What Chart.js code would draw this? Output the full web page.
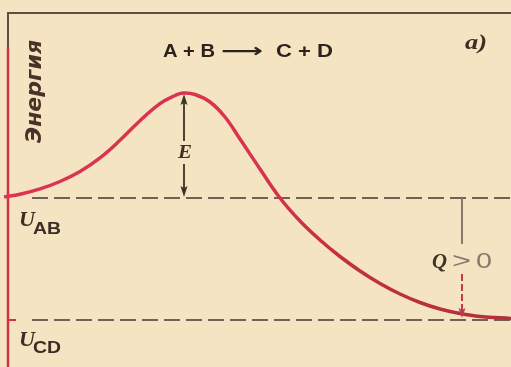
<!DOCTYPE html>
<html>
<head>
<meta charset="utf-8">
<script src="https://cdn.jsdelivr.net/npm/chart.js@4/dist/chart.umd.min.js"></script>
<style>
  html, body { margin: 0; padding: 0; background: #f4e4c2; }
  #wrap { width: 511px; height: 367px; }
</style>
</head>
<body>
<div id="wrap"><canvas id="c" width="511" height="367"></canvas></div>
<script>
// Reaction coordinate (horizontal position along the reaction path)
const reactionCoord = [4, 20, 40, 60, 80, 100, 120, 140, 160, 175, 183, 195, 210, 225, 240, 260, 280, 300, 320, 340, 360, 380, 400, 420, 440, 460, 480, 511];
// Energy along the path (U_CD = 0)
const energy = [123, 125.7, 131.1, 138.5, 148.5, 162.1, 179.7, 199.3, 216.3, 224.5, 227, 225.5, 218, 203, 181, 151, 122, 99, 80, 63.5, 49, 36.5, 26, 17.5, 11, 6.5, 3.5, 1.5];
// Energy levels
const levelNames = ['AB', 'CD'];
const levelValues = [122, 0];
const levelRange = [32, 511];
// Activation barrier marker and heat marker positions
const peakCoord = 183;
const peakEnergy = 227;
const heatCoord = 462;
// Texts
const reactionLeft = 'A + B';
const reactionArrow = '\u27F6';
const reactionRight = 'C + D';
const axisText = '\u042D\u043D\u0435\u0440\u0433\u0438\u044F';
const panelText = 'a)';

const curvePoints = reactionCoord.map((x, i) => ({ x: x, y: energy[i] }));
const levelSets = levelValues.map(v => [{ x: levelRange[0], y: v }, { x: levelRange[1], y: v }]);

function arrowHead(ctx, x, y, dir, w, l, color) {
  ctx.save();
  ctx.fillStyle = color;
  ctx.beginPath();
  ctx.moveTo(x, y);
  ctx.lineTo(x - w, y - dir * l);
  ctx.lineTo(x, y - dir * (l - 2));
  ctx.lineTo(x + w, y - dir * l);
  ctx.closePath();
  ctx.fill();
  ctx.restore();
}

// draw text starting at x (left) and fit horizontally to width (if given)
function fitText(ctx, text, x, y, font, color, width) {
  ctx.save();
  ctx.font = font;
  ctx.fillStyle = color;
  ctx.textBaseline = 'alphabetic';
  ctx.textAlign = 'left';
  const w = ctx.measureText(text).width;
  const s = width ? width / w : 1;
  ctx.translate(x, y);
  ctx.scale(s, 1);
  ctx.fillText(text, 0, 0);
  ctx.restore();
}

const decor = {
  id: 'decor',
  beforeDraw(chart) {
    const ctx = chart.ctx;
    ctx.save();
    ctx.fillStyle = '#f4e4c2';
    ctx.fillRect(0, 0, chart.width, chart.height);
    ctx.restore();
  },
  beforeDatasetsDraw(chart) {
    const ctx = chart.ctx;
    const xs = chart.scales.x, ys = chart.scales.y;
    const x0 = xs.getPixelForValue(8);
    ctx.save();
    ctx.lineWidth = 2;
    ctx.strokeStyle = '#5e5040';
    ctx.beginPath();
    ctx.moveTo(x0 - 1, 13);
    ctx.lineTo(chart.width, 13);
    ctx.stroke();
    ctx.beginPath();
    ctx.moveTo(x0, 13);
    ctx.lineTo(x0, 47);
    ctx.stroke();
    ctx.strokeStyle = '#cf3249';
    ctx.lineWidth = 2.5;
    ctx.beginPath();
    ctx.moveTo(x0, 47);
    ctx.lineTo(x0, chart.height);
    ctx.stroke();
    ctx.lineWidth = 2;
    ctx.beginPath();
    const yc = ys.getPixelForValue(levelValues[1]);
    ctx.moveTo(x0, yc);
    ctx.lineTo(x0 + 8, yc);
    ctx.stroke();
    ctx.restore();
  },
  afterDatasetsDraw(chart) {
    const ctx = chart.ctx;
    const xs = chart.scales.x, ys = chart.scales.y;
    const dark = '#3f3228';
    const gray = '#857a6c';
    // Activation energy arrow
    const ex = xs.getPixelForValue(peakCoord) + 1;
    const yTop = ys.getPixelForValue(peakEnergy);
    const yBase = ys.getPixelForValue(levelValues[0]);
    ctx.save();
    ctx.strokeStyle = dark;
    ctx.lineWidth = 1.8;
    ctx.beginPath();
    ctx.moveTo(ex, yTop + 6);
    ctx.lineTo(ex, 141);
    ctx.moveTo(ex, 164);
    ctx.lineTo(ex, yBase - 5);
    ctx.stroke();
    ctx.restore();
    arrowHead(ctx, ex, yTop + 1, -1, 3.5, 11, dark);
    arrowHead(ctx, ex, yBase - 1, 1, 3.5, 11, dark);
    fitText(ctx, 'E', 178, 158, 'italic bold 19px "Liberation Serif"', dark, 14);

    // Heat arrow
    const qx = xs.getPixelForValue(heatCoord);
    const yLow = ys.getPixelForValue(levelValues[1]);
    ctx.save();
    ctx.strokeStyle = gray;
    ctx.lineWidth = 2;
    ctx.beginPath();
    ctx.moveTo(qx, yBase);
    ctx.lineTo(qx, 244);
    ctx.stroke();
    ctx.strokeStyle = '#bf3a4a';
    ctx.setLineDash([7, 3]);
    ctx.beginPath();
    ctx.moveTo(qx, 274);
    ctx.lineTo(qx, yLow - 8);
    ctx.stroke();
    ctx.restore();
    arrowHead(ctx, qx, yLow - 2, 1, 3.5, 10, '#bf3a4a');
    fitText(ctx, 'Q', 432, 268, 'italic bold 22px "Liberation Serif"', dark, 15);
    fitText(ctx, '>', 452, 268, '22px "Liberation Sans"', gray, 19);
    fitText(ctx, '0', 476, 268, '22px "Liberation Sans"', gray, 16);

    // Reaction text and panel label
    const tc = '#2c231c';
    fitText(ctx, reactionLeft, 163, 57, 'bold 19px "Liberation Sans"', tc, 52);
    fitText(ctx, reactionArrow, 221, 57, 'bold 19px "DejaVu Sans"', tc, 42);
    fitText(ctx, reactionRight, 276, 57, 'bold 19px "Liberation Sans"', tc, 57);
    fitText(ctx, panelText, 465, 49, 'italic bold 21px "Liberation Serif"', '#3a2e24', 22);

    // Level labels
    const labelY = [[226, 234], [346, 353]];
    levelNames.forEach((n, i) => {
      fitText(ctx, 'U', 19, labelY[i][0], 'italic bold 22px "Liberation Serif"', '#3a2e24', 16);
      fitText(ctx, n, 33, labelY[i][1], 'bold 16px "Liberation Sans"', '#3a2e24', 28);
    });

    // Axis title (rotated)
    ctx.save();
    ctx.translate(41, 143);
    ctx.rotate(-Math.PI / 2);
    fitText(ctx, axisText, 0, 0, 'italic bold 21px "DejaVu Sans"', '#4a3228', 103);
    ctx.restore();
  }
};

const chart = new Chart(document.getElementById('c'), {
  type: 'line',
  data: {
    datasets: [
      {
        data: curvePoints,
        borderWidth: 3.5,
        borderColor: function (context) {
          const c = context.chart;
          const area = c.chartArea;
          if (!area) return '#d8344f';
          const g = c.ctx.createLinearGradient(area.left, 0, area.right, 0);
          g.addColorStop(0, '#dc3452');
          g.addColorStop(0.5, '#d9334f');
          g.addColorStop(0.66, '#c4303f');
          g.addColorStop(1, '#b22f3c');
          return g;
        },
        tension: 0.4,
        pointRadius: 0,
        fill: false
      },
      {
        data: levelSets[0],
        borderWidth: 2,
        borderColor: '#6e6254',
        borderDash: [16, 6],
        pointRadius: 0,
        fill: false
      },
      {
        data: levelSets[1],
        borderWidth: 2,
        borderColor: '#6e6254',
        borderDash: [16, 6],
        pointRadius: 0,
        fill: false
      }
    ]
  },
  options: {
    responsive: false,
    animation: false,
    layout: { padding: 0 },
    plugins: { legend: { display: false }, tooltip: { enabled: false }, title: { display: false } },
    scales: {
      x: { type: 'linear', min: 0, max: 511, display: false },
      y: { type: 'linear', min: -47, max: 320, display: false }
    }
  },
  plugins: [decor]
});
</script>
</body>
</html>
